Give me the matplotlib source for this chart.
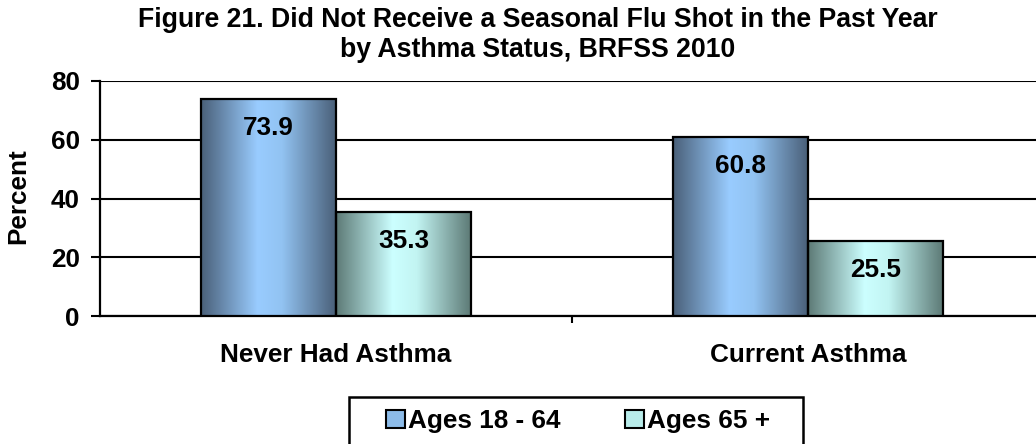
import numpy as np
import matplotlib
matplotlib.use("Agg")
import matplotlib.pyplot as plt
from matplotlib.colors import LinearSegmentedColormap
from matplotlib.patches import Rectangle

categories = ["Never Had Asthma", "Current Asthma"]
series_names = ["Ages 18 - 64", "Ages 65 +"]
ages_18_64 = [73.9, 60.8]
ages_65_plus = [35.3, 25.5]
yticks = [0, 20, 40, 60, 80]

plt.rcParams['font.family'] = ['Liberation Sans', 'DejaVu Sans']
plt.rcParams['font.weight'] = 'bold'
FS = 18.8

fig = plt.figure(figsize=(10.36, 4.44), dpi=100)
W, H = 1036, 444
PT = 72 / 100  # points per pixel
x0, x1 = 100, 1044
y0, y1 = 316, 81
ax = fig.add_axes([x0 / W, 1 - y0 / H, (x1 - x0) / W, (y0 - y1) / H])
ax.set_xlim(0, 2)
ax.set_ylim(0, 80)

cmap_blue = LinearSegmentedColormap.from_list(
    "b", [(0, "#4a6079"), (0.42, "#99ccff"), (0.6, "#92c3f2"), (1, "#4a6079")])
cmap_teal = LinearSegmentedColormap.from_list(
    "t", [(0, "#5d7a76"), (0.42, "#ccffff"), (0.6, "#c2f4f2"), (1, "#5d7a76")])

bw = 0.286
grad = np.linspace(0, 1, 256).reshape(1, -1)
series = [(ages_18_64, cmap_blue, -1), (ages_65_plus, cmap_teal, 0)]
for vals, cmap, off in series:
    for i, v in enumerate(vals):
        left = i + 0.5 + off * bw
        rect = Rectangle((left, 0), bw, v, facecolor="none", edgecolor="black",
                         lw=1.6, zorder=4)
        ax.add_patch(rect)
        im = ax.imshow(grad, cmap=cmap, aspect="auto",
                       extent=[left, left + bw, 0, v], zorder=3)
        im.set_clip_path(rect)
        ax.text(left + bw / 2, v - 9.8, f"{v:.1f}", ha="center", va="center",
                fontsize=FS, fontweight="bold", zorder=5)

ax.set_yticks(yticks)
ax.set_yticklabels([str(t) for t in yticks], fontsize=FS, fontweight="bold")
ax.yaxis.grid(True, color="black", lw=1.5, zorder=1)
ax.set_axisbelow(True)
ax.tick_params(axis="y", direction="out", length=9 * PT, width=1.5, pad=11 * PT)
ax.set_xticks([1])
ax.set_xticklabels([""])
ax.tick_params(axis="x", direction="out", length=7 * PT, width=1.5)
for s in ["top", "right"]:
    ax.spines[s].set_visible(False)
for s in ["left", "bottom"]:
    ax.spines[s].set_linewidth(1.6)

fig.text(18 / W, 1 - 196 / H, "Percent", rotation=90, ha="center", va="center",
         fontsize=FS, fontweight="bold")

for i, c in enumerate(categories):
    ax.text(i + 0.5, -13.3, c, ha="center", va="center", fontsize=FS,
            fontweight="bold", transform=ax.transData, clip_on=False)

TFS = 19.2
fig.text(538 / W, 1 - 20 / H, "Figure 21. Did Not Receive a Seasonal Flu Shot in the Past Year",
         ha="center", va="center", fontsize=TFS, fontweight="bold")
fig.text(538 / W, 1 - 50 / H, "by Asthma Status, BRFSS 2010",
         ha="center", va="center", fontsize=TFS, fontweight="bold")

# legend box (extends past the bottom edge like the reference)
box = Rectangle((349 / W, 1 - 470 / H), (803 - 349) / W, (470 - 397) / H,
                transform=fig.transFigure, facecolor="white", edgecolor="black",
                lw=1.8, zorder=1)
fig.add_artist(box)

handles = [Rectangle((0, 0), 1, 1, facecolor="#8cbbe8", edgecolor="black", lw=1.5),
           Rectangle((0, 0), 1, 1, facecolor="#b8ecea", edgecolor="black", lw=1.5)]
leg = fig.legend(handles, series_names, loc="center", bbox_to_anchor=(578 / W, 1 - 421 / H),
                 ncol=2, fontsize=FS, frameon=False,
                 handlelength=0.72, handleheight=0.72, handletextpad=0.12,
                 columnspacing=2.45, borderpad=0, borderaxespad=0)
leg.set_zorder(2)
for t in leg.get_texts():
    t.set_fontweight("bold")

fig.savefig("out.png", dpi=100)
